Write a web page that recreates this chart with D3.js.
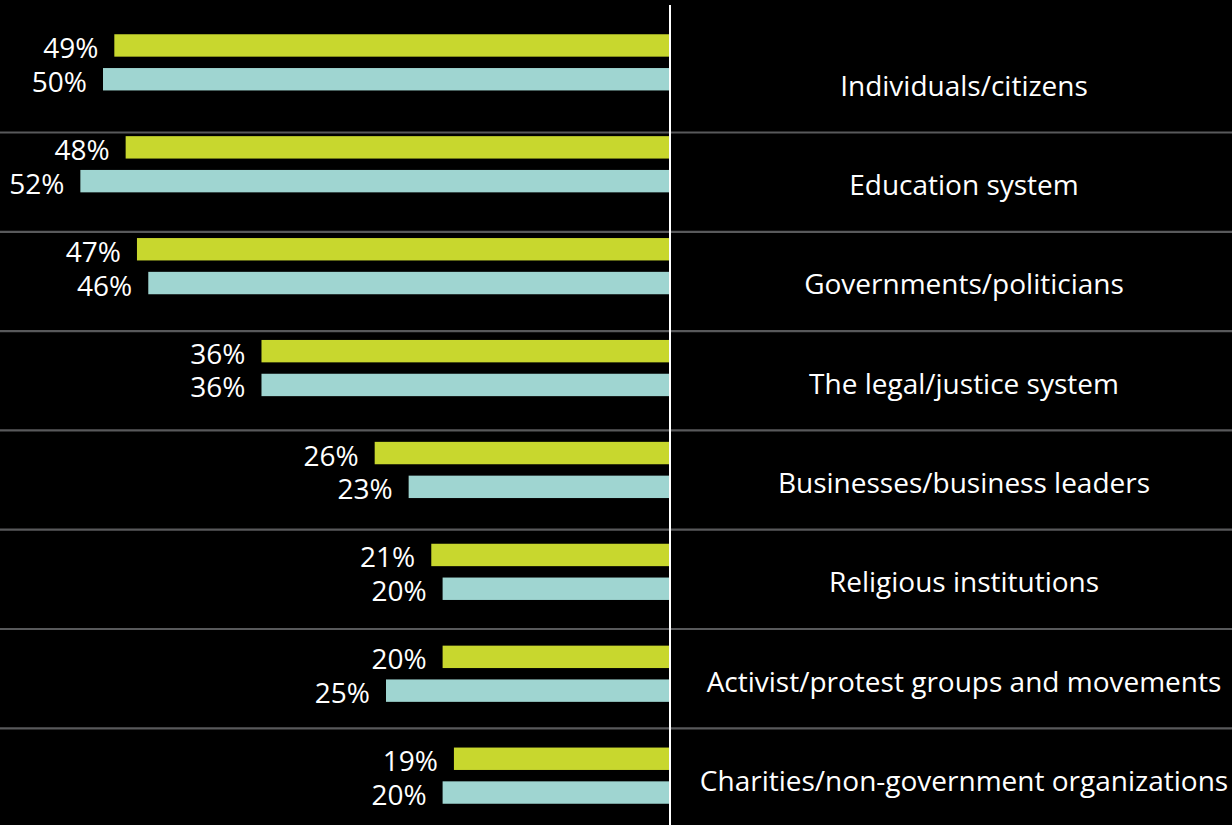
<!DOCTYPE html>
<html>
<head>
<meta charset="utf-8">
<script src="https://cdn.jsdelivr.net/npm/d3@7"></script>
<style>
  html, body { margin: 0; padding: 0; background: #000; }
  svg { display: block; }
  text { font-family: "Open Sans", Lato, sans-serif; fill: #fff; }
</style>
</head>
<body>
<svg id="chart" width="1232" height="825"></svg>
<script>
// Categories, top to bottom
const categories = [
  "Individuals/citizens",
  "Education system",
  "Governments/politicians",
  "The legal/justice system",
  "Businesses/business leaders",
  "Religious institutions",
  "Activist/protest groups and movements",
  "Charities/non-government organizations"
];

// Two series of percentages (upper green bar, lower teal bar)
const seriesNames = ["green", "teal"];
const greenValues = [49, 48, 47, 36, 26, 21, 20, 19];
const tealValues  = [50, 52, 46, 36, 23, 20, 25, 20];
const seriesColors = ["#c8d72e", "#9fd5d1"];

const W = 1232, H = 825;
const svg = d3.select("#chart");

// Bars grow leftward from the central axis
const axisX = 669;
const x = d3.scaleLinear().domain([0, 50]).range([axisX, 103]);

// Bar groups
const yGroup = d3.scaleBand().domain(categories).range([11.4, 11.4 + 101.9 * categories.length]).padding(0);
const groupH = 56.2;
const yInner = d3.scaleBand().domain(seriesNames).range([0, groupH]).paddingInner(0.337).paddingOuter(0);

// Label rows with separators
const yRow = d3.scaleBand().domain(categories).range([33.2, 33.2 + 99.3 * categories.length]).padding(0);

// Row separators
svg.append("g")
  .selectAll("line")
  .data(categories.slice(1))
  .join("line")
  .attr("x1", 0).attr("x2", W)
  .attr("y1", d => yRow(d)).attr("y2", d => yRow(d))
  .attr("stroke", "#58595b").attr("stroke-width", 2.2);

const rows = categories.map((c, i) => ({
  category: c,
  values: [greenValues[i], tealValues[i]]
}));

const groups = svg.append("g")
  .selectAll("g")
  .data(rows)
  .join("g")
  .attr("transform", d => `translate(0,${yGroup(d.category) + (yGroup.bandwidth() - groupH) / 2})`);

groups.selectAll("rect")
  .data(d => d.values.map((v, j) => ({ key: seriesNames[j], value: v, color: seriesColors[j] })))
  .join("rect")
  .attr("x", d => x(d.value))
  .attr("y", d => yInner(d.key))
  .attr("width", d => x(0) - x(d.value))
  .attr("height", yInner.bandwidth())
  .attr("fill", d => d.color);

groups.selectAll("text")
  .data(d => d.values.map((v, j) => ({ key: seriesNames[j], value: v })))
  .join("text")
  .attr("x", d => x(d.value) - 16)
  .attr("y", d => yInner(d.key) + yInner.bandwidth() / 2 + 1.5)
  .attr("text-anchor", "end")
  .attr("dominant-baseline", "central")
  .attr("font-size", 28)
  .text(d => d.value + "%");

// Category labels
svg.append("g")
  .selectAll("text")
  .data(categories)
  .join("text")
  .attr("x", 964)
  .attr("y", d => yRow(d) + yRow.bandwidth() / 2 + 2)
  .attr("text-anchor", "middle")
  .attr("dominant-baseline", "central")
  .attr("font-size", 28)
  .text(d => d);

// Central axis line
svg.append("line")
  .attr("x1", axisX + 1).attr("x2", axisX + 1)
  .attr("y1", 5).attr("y2", H)
  .attr("stroke", "#ffffff").attr("stroke-width", 2);
</script>
</body>
</html>
